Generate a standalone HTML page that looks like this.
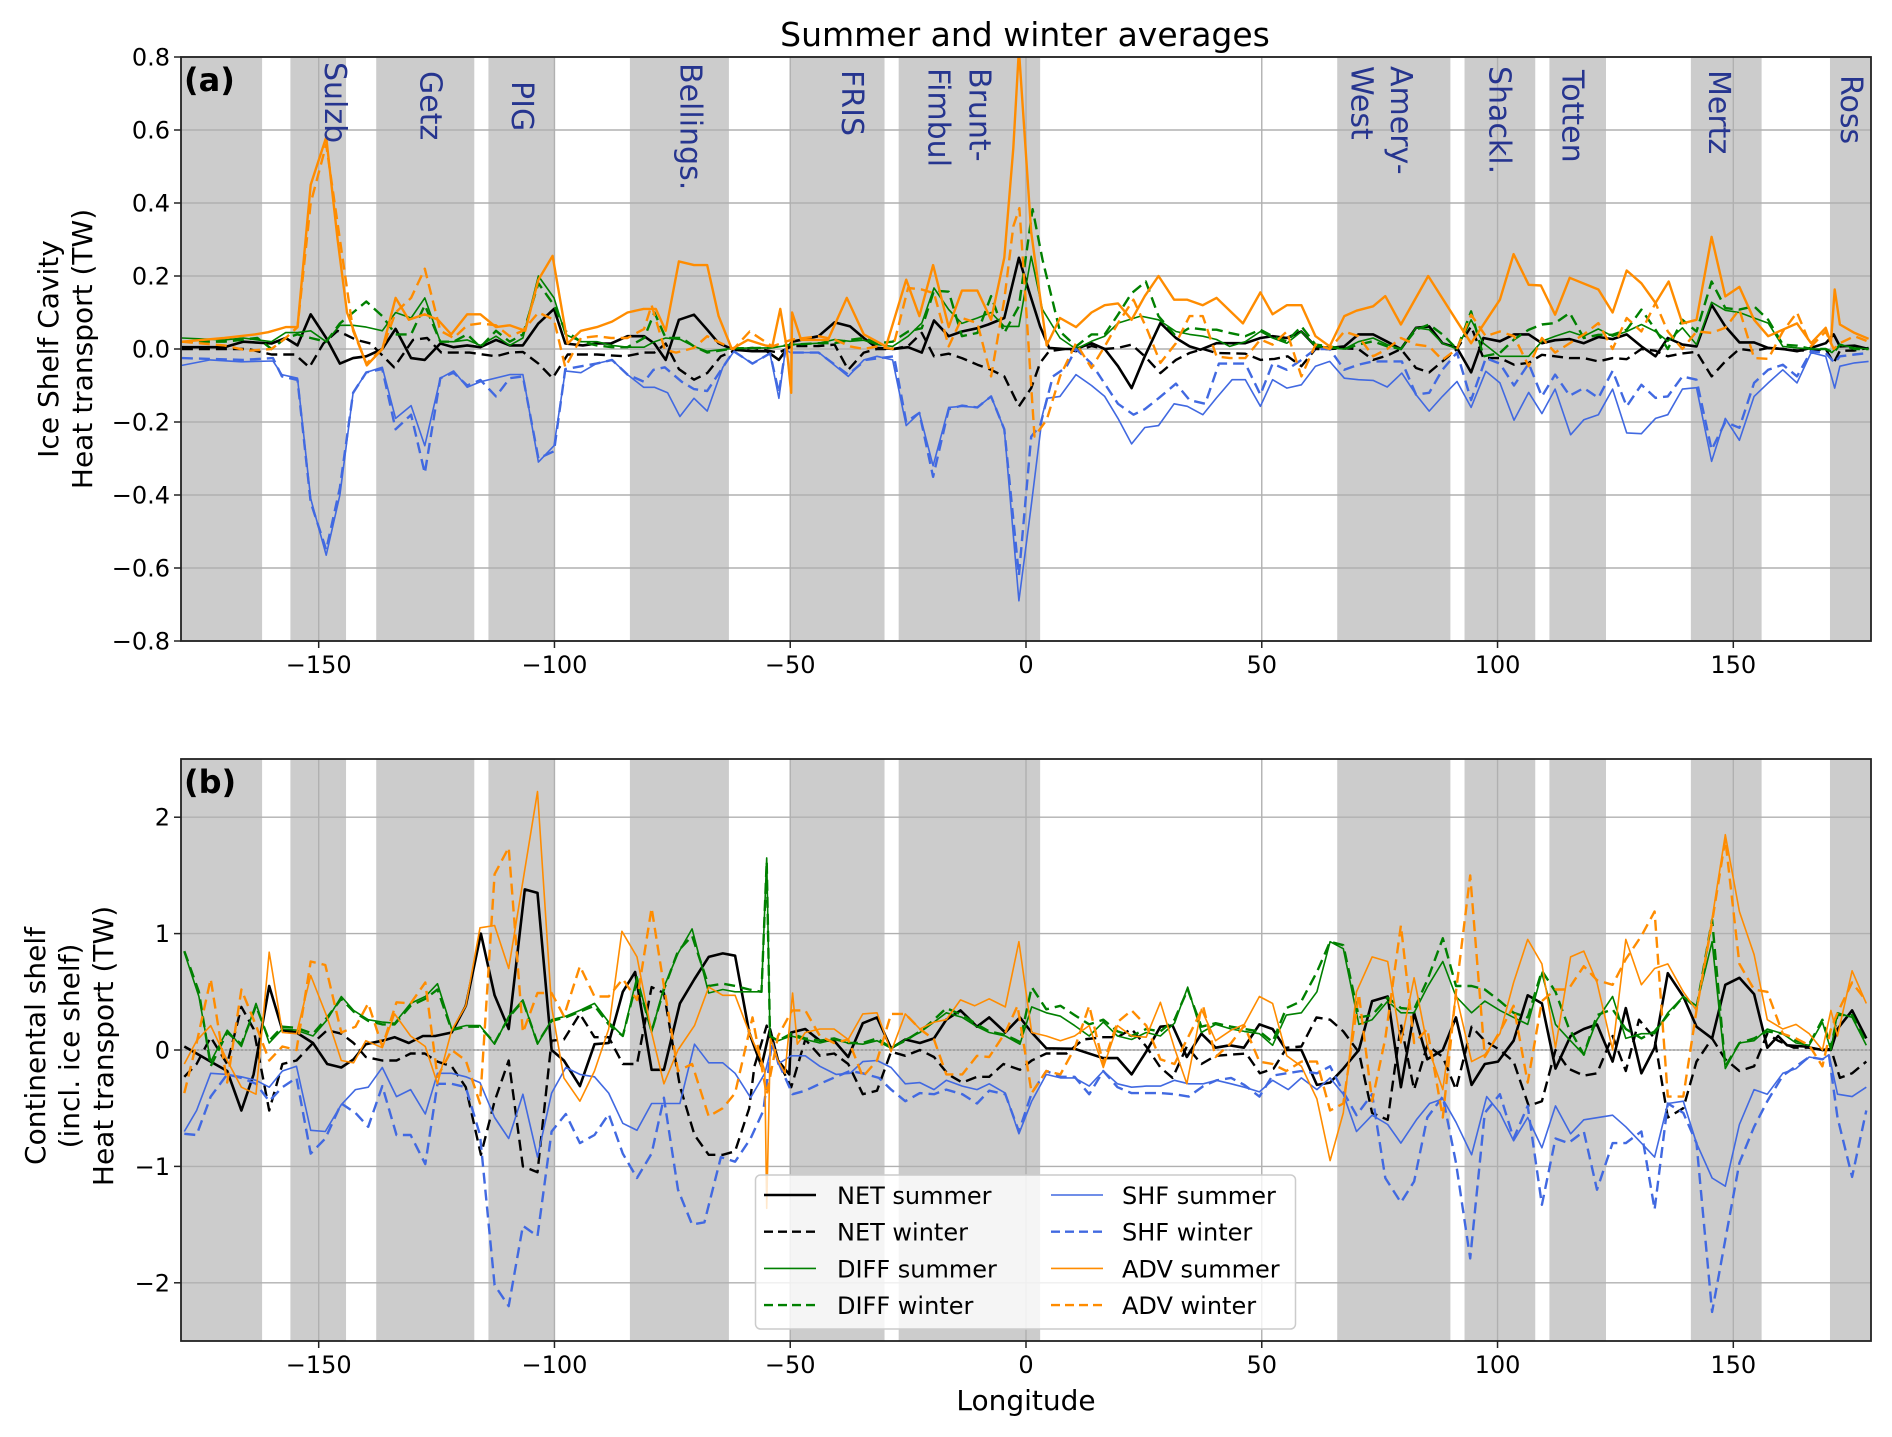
<!DOCTYPE html>
<html>
<head>
<meta charset="utf-8">
<style>
html,body{margin:0;padding:0;background:#fff;}
svg{display:block;font-family:"DejaVu Sans","Liberation Sans",sans-serif;}
</style>
</head>
<body>
<svg id="chart" width="1892" height="1437" viewBox="0 0 1892 1437" xmlns="http://www.w3.org/2000/svg">
<rect x="0" y="0" width="1892" height="1437" fill="#fff"/>
<text x="1025" y="46" font-size="33" text-anchor="middle" fill="#000">Summer and winter averages</text>
<g id="panelA"></g>
<g id="panelB"></g>
<text transform="translate(58,349) rotate(-90)" font-size="28" text-anchor="middle">Ice Shelf Cavity</text>
<text transform="translate(92,349) rotate(-90)" font-size="28" text-anchor="middle">Heat transport (TW)</text>
<text transform="translate(45,1046) rotate(-90)" font-size="28" text-anchor="middle">Continental shelf</text>
<text transform="translate(79,1046) rotate(-90)" font-size="28" text-anchor="middle">(incl. ice shelf)</text>
<text transform="translate(113,1046) rotate(-90)" font-size="28" text-anchor="middle">Heat transport (TW)</text>
<text x="1026" y="1410" font-size="28" text-anchor="middle">Longitude</text>
<g id="legend"></g>
</svg>
<script>
// ---------- shared data ----------
const xTicks = [-150, -100, -50, 0, 50, 100, 150];
const yTicksA = [-0.8, -0.6, -0.4, -0.2, 0.0, 0.2, 0.4, 0.6, 0.8];
const yTickLabelsA = ["\u22120.8", "\u22120.6", "\u22120.4", "\u22120.2", "0.0", "0.2", "0.4", "0.6", "0.8"];
const yTicksB = [-2, -1, 0, 1, 2];
const yTickLabelsB = ["\u22122", "\u22121", "0", "1", "2"];
const bandStarts = [-180, -156, -137.8, -114, -84, -50, -27, 66, 93, 111, 141, 170.5];
const bandEnds = [-162, -144.2, -117, -100, -63, -30, 3, 90, 108, 123, 156, 180];
const regionNames = ["Sulzb", "Getz", "PIG", "Bellings.", "FRIS", "Brunt-", "Fimbul", "Amery-", "West", "Shackl.", "Totten", "Mertz", "Ross"];
const regionLons = [-146.7, -126.4, -107.0, -71.3, -37.0, -10.0, -18.7, 79.4, 71.0, 100.3, 115.8, 146.9, 174.8];
const regionTopY = [62, 71, 81, 63, 70, 68, 68, 66, 66, 66, 70, 70, 75];

// ---------- panel (a) data ----------
const aNetSumLon = [-179,-170,-166,-160,-157,-154.5,-151.7,-148.4,-145.5,-142.7,-139.9,-136.5,-133.7,-130.4,-127.5,-124.2,-121.4,-118.5,-115.7,-112.4,-109.5,-106.7,-103.4,-100.1,-97.7,-94,-91,-88,-84.5,-81,-78.8,-76.4,-73.6,-70.4,-67.6,-65.2,-62,-58.1,-55,-52.4,-49.6,-44,-40.6,-37.3,-34.4,-31.6,-28,-25,-22.1,-19.5,-16.4,-13.6,-10.3,-8,-4.6,-1.5,0.6,3,4.9,8.2,10.6,13.9,16.7,19.5,22.4,25.2,28.5,31.8,34.7,37,40.4,46.5,49.7,52.3,55.3,58.4,61.4,64.4,67.5,70.5,73.6,76.6,79.5,82.7,85.5,88.3,91.4,94.4,97,100.5,103.5,106.6,109.4,112.2,115.3,118.3,121.4,124.4,127.4,130.5,133.5,136.1,139.2,142.2,145.4,148.3,151.3,154.4,157.4,160.5,163.5,166.5,169.6,171.3,172.6,175.7,178.7];
const aNetSumVal = [0.005,0.005,0.02,0.015,0.03,0.01,0.095,0.03,-0.04,-0.025,-0.02,0,0.055,-0.025,-0.03,0.015,0.005,0.01,0.005,0.025,0.01,0.01,0.07,0.11,0.015,0.01,0.015,0.015,0.035,0.035,0.015,-0.03,0.08,0.094,0.053,0.016,-0.002,-0.006,-0.006,-0.03,0.02,0.035,0.073,0.062,0.03,0.003,0,0.005,-0.01,0.078,0.035,0.048,0.057,0.067,0.085,0.25,0.16,0.062,0.003,0,0,0.016,0,-0.047,-0.107,-0.02,0.071,0.03,0.007,-0.002,0.016,0.016,0.03,0.035,0.03,0.048,0.007,0.003,0.007,0.04,0.04,0.02,0,0.058,0.062,0.016,0.003,-0.064,0.03,0.021,0.04,0.04,0.016,0.024,0.027,0.016,0.033,0.027,0.04,0.007,-0.02,0.03,0.012,0.007,0.121,0.062,0.018,0.018,0.003,0,-0.006,0.003,0.016,0.04,0.007,0.009,0];
const aNetWinLon = [-179,-165,-160,-155,-152,-149,-146,-142,-139,-134,-130,-127,-124,-118,-112.4,-109.5,-106.7,-103.4,-100.4,-97.2,-91,-85,-81,-78.8,-76.4,-73.6,-70.4,-67.6,-64.7,-61,-58,-52.4,-49.6,-44,-40.6,-37.7,-34.4,-31.6,-28.3,-25,-22.1,-19.5,-16.4,-13.6,-10.3,-7.4,-4.6,-1.5,1.1,3,4.9,8.2,10.6,13.9,16.7,19.5,22.4,25.2,28.5,31.8,34.7,37.5,40.4,46.5,49.7,52.7,55.5,58.4,61.4,64.4,67.5,70.5,73.6,76.6,79.5,82.7,85.5,88.3,91.4,94.4,97,100.5,103.5,106.6,109.4,112.2,115.3,118.3,121.4,124.4,127.4,130.5,133.5,136.1,139.2,142.2,145.4,148.3,151.3,154.4,157.4,160.5,163.5,166.5,169.6,171.3,172.6,175.7,178.7];
const aNetWinVal = [0,0,-0.015,-0.015,-0.05,0.015,0.05,0.025,0.015,-0.05,0.025,0.03,-0.01,-0.01,-0.02,-0.01,-0.008,-0.04,-0.08,-0.015,-0.015,-0.02,-0.01,-0.01,0.015,-0.055,-0.084,-0.066,-0.02,0,0.003,-0.01,0.008,0.008,0.012,-0.057,-0.01,0,0,0.008,0.044,-0.02,-0.013,-0.025,-0.043,-0.057,-0.075,-0.157,-0.107,-0.038,-0.006,0,-0.006,0.008,0,0.003,0.012,-0.02,-0.066,-0.03,-0.011,0,-0.011,-0.013,-0.03,-0.027,-0.02,-0.047,0,0,0.002,0,-0.03,-0.018,0,-0.052,-0.064,-0.034,0,0.062,-0.025,-0.025,-0.043,-0.038,-0.016,-0.02,-0.025,-0.025,-0.034,-0.025,-0.028,0,-0.005,-0.02,-0.012,-0.008,-0.075,-0.034,0,-0.005,0.003,0,-0.004,-0.004,0,-0.038,-0.005,-0.004,0.003];
const aDiffSumLon = [-179,-170,-166,-160,-157,-154.5,-151.7,-148.4,-145.5,-142.7,-139.9,-136.5,-133.7,-130.4,-127.5,-124.2,-121.4,-118.5,-115.7,-112.4,-109.5,-106.7,-103.4,-100.1,-97.7,-94.4,-91,-87.8,-84.5,-81,-78.8,-76.4,-73.3,-70.4,-67.6,-62,-58,-54,-49.6,-43.9,-40.6,-37.3,-34.4,-31.6,-28.3,-25,-22.1,-19.5,-16.4,-13.6,-10.3,-7.4,-4.6,-1.5,1.1,3.5,7.2,10.6,13.9,16.7,19.5,24.3,28.1,31.8,34.7,37.5,40.4,43.2,46.5,49.7,52.3,55.3,58.4,61.4,64.4,67.5,70.5,73.6,76.6,79.5,82.7,85.5,88.3,91.4,94.4,97,100.5,103.5,106.6,109.4,112.2,115.3,118.3,121.4,124.4,127.4,130.5,133.5,136.1,139.2,142.2,145.4,148.3,151.3,154.4,157.4,160.5,163.5,166.5,169.6,170.9,172.6,175.7,178.7];
const aDiffSumVal = [0.03,0.025,0.03,0.02,0.045,0.045,0.05,0.02,0.065,0.065,0.06,0.05,0.1,0.085,0.14,0.02,0.02,0.025,0.01,0.035,0.01,0.03,0.2,0.14,0.04,0.02,0.02,0.01,0.005,0.005,0.02,0.03,0.026,0.007,-0.006,0.002,0.003,0.003,0.012,0.016,0.026,0.021,0.024,0.012,0.007,0.035,0.071,0.167,0.108,0.07,0.085,0.1,0.062,0.062,0.254,0.108,0.03,0,0.021,0.035,0.071,0.09,0.08,0.048,0.04,0.035,0.026,0.007,0.02,0.048,0.03,0.016,0.048,0.007,0.003,0,0.02,0.03,0.012,0,0.058,0.053,0.016,0,0.08,0.016,-0.02,-0.02,-0.02,0.021,0.035,0.048,0.035,0.055,0.035,0.048,0.067,0.048,0.021,0.058,0.012,0.128,0.106,0.1,0.085,0.071,0.007,0.003,0,0,-0.01,0.012,0.003,0];
const aDiffWinLon = [-179,-170,-163,-160,-157,-154.5,-151.7,-148.4,-145.5,-142.7,-139.9,-136.5,-133.7,-130.4,-127.5,-124.2,-121.4,-118.5,-115.7,-112.4,-109.5,-106.7,-103.4,-100.1,-97.7,-94.4,-91,-87.8,-84.5,-81,-78.8,-76.4,-73,-70.4,-67.6,-62,-55,-49.6,-43.9,-40.6,-37.3,-34.4,-31.6,-28.3,-25,-22.1,-19.5,-16.4,-13.6,-10.3,-7.4,-4.6,-1.5,1.4,3.5,7.2,10.6,13.9,16.7,19.5,22.4,25.4,28.1,31.8,34.7,38,40.4,43.2,46.5,49.7,52.3,55.3,58.4,61.4,64.4,67.5,70.5,73.6,76.6,79.5,82.7,85.5,88.3,91.4,94.4,97,100.5,103.5,106.6,109.4,112.2,115.3,118.3,121.4,124.4,127.4,130.5,133.5,136.1,139.2,142.2,145.4,148.3,151.3,154.4,157.4,160.5,163.5,166.5,169.6,171.3,172.6,175.7,178.7];
const aDiffWinVal = [0.02,0.02,0.03,0,0.03,0.04,0.03,0.02,0.07,0.1,0.13,0.09,0.04,0.04,0.12,0.02,0.02,0.04,0.005,0.05,0.02,0.04,0.18,0.12,0.05,0.02,0.01,0.005,0.005,0.03,0.1,0.03,0.03,0.007,-0.01,0.002,0.003,0.012,0.016,0.016,0.025,0.03,0.016,0.02,0.048,0.057,0.16,0.157,0.035,0.044,0.145,0.044,0.117,0.383,0.245,0.048,0.007,0.04,0.04,0.094,0.153,0.185,0.09,0.035,0.058,0.053,0.053,0.044,0.035,0.053,0.035,0.021,0.062,0.012,0.007,0,0.012,0.021,0.007,0,0.053,0.067,0.04,0,0.103,-0.02,-0.011,0.026,0.053,0.067,0.071,0.099,0.03,0.039,0.039,0.053,0.108,0.053,0,0.08,0.048,0.185,0.112,0.108,0.117,0.08,0.012,0.009,0,0,-0.01,0.012,0,0];
const aShfSumLon = [-179,-173,-166.4,-159.7,-157.8,-154.5,-151.7,-148.4,-145.5,-142.7,-139.9,-136.5,-133.7,-130.4,-127.5,-124.2,-121.4,-118.5,-115.7,-109.5,-106.7,-103.4,-100.1,-97.7,-94.4,-91.1,-87.8,-84.5,-81.1,-78.8,-76,-73.4,-70.4,-67.6,-64.3,-61.9,-58.1,-54.3,-52.4,-51,-50,-43.9,-37.7,-34.4,-31.6,-28.3,-25.4,-22.6,-19.7,-16.4,-13.6,-10.3,-7.4,-4.6,-1.5,1.1,3.5,4.4,7.2,10.6,13.9,16.7,19.5,22.4,25.2,28.1,31.4,34.2,37.5,40.4,43.7,46.5,49.7,52.3,55.3,58.4,61.4,64.4,67.5,70.5,73.6,76.6,79.7,82.7,85.5,88.3,91.4,94.4,97.5,100.5,103.5,106.6,109.4,112.2,115.5,118.3,121.4,124.4,127.4,130.5,133.5,136.1,139.2,142.2,145.4,148.3,151.3,154.4,157.4,160.5,163.5,166.5,169.6,171.5,172.6,175.7,178.7];
const aShfSumVal = [-0.045,-0.03,-0.035,-0.033,-0.07,-0.08,-0.41,-0.565,-0.4,-0.12,-0.064,-0.05,-0.19,-0.155,-0.265,-0.08,-0.06,-0.105,-0.09,-0.07,-0.07,-0.31,-0.265,-0.06,-0.065,-0.04,-0.03,-0.07,-0.105,-0.105,-0.12,-0.185,-0.135,-0.17,-0.05,-0.006,-0.04,-0.012,-0.135,0,-0.01,-0.01,-0.075,-0.03,-0.02,-0.03,-0.21,-0.175,-0.32,-0.16,-0.157,-0.16,-0.13,-0.22,-0.69,-0.43,-0.18,-0.135,-0.13,-0.07,-0.1,-0.13,-0.19,-0.26,-0.215,-0.21,-0.15,-0.157,-0.18,-0.134,-0.084,-0.084,-0.157,-0.084,-0.107,-0.098,-0.047,-0.034,-0.08,-0.084,-0.086,-0.104,-0.066,-0.125,-0.17,-0.13,-0.089,-0.16,-0.061,-0.093,-0.195,-0.119,-0.177,-0.11,-0.235,-0.194,-0.18,-0.11,-0.23,-0.232,-0.19,-0.18,-0.11,-0.106,-0.308,-0.19,-0.25,-0.13,-0.093,-0.057,-0.093,-0.01,-0.02,-0.107,-0.047,-0.038,-0.034];
const aShfWinLon = [-179,-166,-159.7,-157.8,-154.5,-151.7,-148.4,-145.5,-142.7,-139.9,-136.5,-133.7,-130.4,-127.5,-124.2,-121.4,-118.5,-115.7,-112.4,-109.5,-106.7,-103.4,-100.1,-97.7,-91.1,-87.8,-84.5,-81,-79,-76.6,-73,-70.4,-67.6,-64.3,-62,-58,-54.3,-52.4,-51,-50,-44,-37.7,-34,-28,-25.4,-22.6,-19.7,-16.4,-13.6,-10.3,-7.4,-4.6,-1.5,1.1,3,5.7,8.5,10.6,13.9,16.7,19.5,22.8,25.2,28.1,31.8,34.7,38,40.9,46.5,49.7,52.3,55.3,58.4,61.4,64.4,67.5,70.5,73.6,76.6,79.7,82.7,85.5,88.3,91.4,94.4,97.5,100.5,103.5,106.6,109.4,112.2,115.3,118.3,121.4,124.4,127.4,130.5,133.5,136.1,139.2,142.2,145.4,148.3,151.3,154.4,157.4,160.5,163.5,166.5,169.6,171.5,172.6,175.7,178.7];
const aShfWinVal = [-0.025,-0.03,-0.025,-0.075,-0.085,-0.42,-0.55,-0.38,-0.12,-0.064,-0.055,-0.22,-0.18,-0.34,-0.08,-0.065,-0.1,-0.085,-0.13,-0.08,-0.075,-0.3,-0.28,-0.055,-0.04,-0.03,-0.07,-0.09,-0.057,-0.05,-0.09,-0.11,-0.115,-0.05,-0.006,-0.04,-0.012,-0.12,0,-0.01,-0.01,-0.07,-0.03,-0.02,-0.2,-0.175,-0.35,-0.165,-0.155,-0.16,-0.13,-0.22,-0.62,-0.24,-0.21,-0.075,-0.05,0,-0.04,-0.095,-0.15,-0.18,-0.165,-0.135,-0.095,-0.14,-0.15,-0.04,-0.04,-0.125,-0.04,-0.057,-0.03,0,0,-0.057,-0.043,-0.034,-0.034,-0.034,-0.125,-0.12,-0.057,-0.01,-0.14,-0.025,-0.04,-0.1,-0.04,-0.13,-0.07,-0.128,-0.107,-0.134,-0.06,-0.157,-0.098,-0.134,-0.13,-0.075,-0.084,-0.276,-0.2,-0.216,-0.093,-0.057,-0.043,-0.075,-0.006,-0.011,-0.038,-0.02,-0.015,-0.011];
const aAdvSumLon = [-179,-170,-163.5,-160.7,-157,-154.5,-151.7,-148.4,-146,-144,-139.8,-136.5,-133.7,-130.9,-127.5,-124.7,-121.9,-118.5,-115.7,-112.4,-109.5,-106.2,-103.4,-100.4,-97.2,-94.4,-91,-87.8,-84.5,-81.1,-78.5,-76.4,-73.6,-70.4,-67.6,-65.2,-62.4,-59,-55.3,-53.8,-52.1,-50.8,-49.8,-49.6,-47.7,-42,-38,-34.4,-29.7,-25.4,-22.6,-19.7,-16.4,-13.6,-10.3,-7.4,-4.6,-2.7,-1.5,1.1,4.4,7.2,10.6,13.9,16.7,19.5,22.4,25.2,28.1,31.4,34.2,37.5,40.4,46,49.7,52.3,55.3,58.4,61.4,64.4,67.5,70.1,73.6,76.2,79.5,85.3,91.4,94.4,100.5,103.4,106.6,109.2,112.2,115.3,121.4,124.4,127.4,130.5,133.5,136.3,139.2,142.2,145.4,148.3,151.3,154.4,157.4,160.5,163.5,166.5,169.6,170.7,171.5,172.6,175.7,178.7];
const aAdvSumVal = [0.02,0.03,0.04,0.046,0.06,0.06,0.45,0.58,0.3,0.1,-0.045,0,0.14,0.08,0.095,0.08,0.04,0.095,0.095,0.06,0.065,0.05,0.19,0.255,0.015,0.05,0.06,0.075,0.1,0.11,0.11,0.05,0.24,0.23,0.23,0.09,0,0.025,0.01,0.007,0.11,0.007,-0.12,0.1,0.025,0.025,0.14,0.04,0.007,0.19,0.09,0.23,0.06,0.16,0.16,0.08,0.25,0.55,0.82,0.32,0.01,0.085,0.06,0.1,0.12,0.125,0.08,0.145,0.2,0.135,0.135,0.12,0.14,0.07,0.155,0.095,0.12,0.12,0.035,0.007,0.09,0.105,0.117,0.145,0.067,0.2,0.076,0.016,0.135,0.26,0.176,0.174,0.094,0.195,0.163,0.1,0.215,0.18,0.126,0.185,0.07,0.08,0.307,0.144,0.17,0.08,0.035,0.053,0.07,0.016,0.058,0.016,0.163,0.067,0.044,0.028];
const aAdvWinLon = [-179,-170,-165,-160,-157,-154.5,-151.7,-148.4,-145.5,-142.7,-139.9,-136.5,-133.7,-130.4,-127.5,-124.2,-121.4,-118.5,-115.7,-112.4,-109.5,-106.7,-103.4,-100.1,-97.7,-94.4,-91,-88,-84.5,-81,-79.4,-76.6,-74.2,-70.4,-67.6,-64.7,-62,-58.6,-55.3,-53.8,-49.6,-44,-40.6,-37.3,-34.4,-31.6,-28.3,-25,-22.1,-19.5,-16.4,-13.6,-10.3,-7.4,-4.6,-2.7,-1.4,0,1.8,4.4,7.2,10.6,13.9,16.7,19.5,22.8,25.7,28.5,31.8,34.7,37.5,40.4,43.2,46.5,49.7,52.3,55.3,58.4,61.4,64.4,67.5,70.5,73.6,76.6,79.5,82.7,85.5,88.3,91.4,94.4,97.5,100.5,103.5,106.6,109.4,112.2,115.3,118.3,121.4,124.4,127.4,130.5,133.5,136.1,139.2,142.2,145.4,148.3,151.3,154.4,157.4,160.5,163.5,166.5,169.6,171.3,172.6,175.7,178.7];
const aAdvWinVal = [0.02,0.01,-0.005,0,0.03,0.06,0.4,0.56,0.3,0.05,-0.04,0,0.1,0.14,0.22,0.05,0.03,0.065,0.07,0.065,0.035,0.05,0.1,0.08,-0.05,0.03,0.035,0.03,0.03,0.055,0.12,-0.002,-0.01,0.003,0.035,0.016,0,0.048,0.02,0.007,0.026,0.035,0.026,0.007,0,0.007,0,0.167,0.163,0.153,0.007,0.085,0.071,-0.075,0.135,0.336,0.386,0.117,-0.24,-0.194,-0.075,0.016,-0.052,0.007,0.071,0.135,0.053,-0.038,0.016,0.09,0.09,-0.02,-0.025,-0.025,0.026,0.012,0.048,-0.075,0.012,0,0.048,0.035,-0.02,0,0.03,0.012,0.007,-0.03,0,0.094,0.035,0.048,0.035,-0.047,0.03,-0.01,0.016,0.04,0.071,0,0.085,0.048,0.126,0.048,0,0.048,0.044,0.058,0.108,-0.025,-0.027,0.048,0.1,0.007,0.048,0,0.016,0.035,0.02];

// ---------- panel (b) data ----------
const bNetSumLon = [-178.5,-175.9,-172.9,-169.4,-166.4,-163.8,-160.5,-157.7,-154.7,-151.2,-148.2,-145.2,-142.6,-140,-136.5,-133.9,-130.9,-127.9,-125.3,-121.8,-118.8,-115.6,-112.7,-109.7,-106.3,-103.6,-100.6,-98,-94.6,-91.5,-88.5,-85.5,-82.9,-79.4,-76.8,-73.4,-70.3,-67.3,-64.3,-61.7,-58.7,-56.1,-54.3,-52.6,-50.2,-49.8,-46.8,-43.7,-40.7,-37.7,-34.6,-31.6,-28.6,-25.6,-22.5,-19.5,-16.9,-13.9,-10.4,-7.8,-4.4,-1.3,1.2,4.3,10.3,16.4,19.4,22.4,25.5,28.5,31.1,34.1,37.2,40.2,43.2,46.2,49.5,52.3,55.2,58.4,61.7,64.5,67.3,70.6,73.4,76.7,79.5,82.3,85.1,88.4,91.2,94.5,97.3,100.1,103.4,106.4,109.4,112.3,115.5,118.3,121.1,124.4,127.2,130.5,133.3,136.1,139.4,142.2,145.5,148.3,151.3,154.4,157.2,159.5,161.4,165.1,168.9,170.7,172.1,175.2,178.2];
const bNetSumVal = [0.03,-0.03,-0.1,-0.18,-0.52,-0.21,0.55,0.17,0.15,0.06,-0.12,-0.15,-0.08,0.05,0.08,0.11,0.06,0.12,0.12,0.15,0.38,1.0,0.47,0.18,1.38,1.35,0,-0.09,-0.31,0.05,0.06,0.5,0.67,-0.17,-0.17,0.4,0.61,0.8,0.83,0.81,0.15,-0.14,0.18,-0.09,-0.21,0.15,0.18,0.08,0.08,-0.06,0.23,0.28,0.015,0.09,0.06,0.1,0.26,0.34,0.2,0.28,0.15,0.28,0.15,0.015,0.01,-0.07,-0.07,-0.21,-0.015,0.2,0.21,-0.06,0.14,0.02,0.04,0.02,0.22,0.18,0,0,-0.3,-0.28,-0.16,0,0.42,0.46,-0.32,0.32,-0.08,0,0.28,-0.3,-0.12,-0.1,0.08,0.47,0.4,-0.16,0.12,0.18,0.22,-0.1,0.36,-0.2,0.02,0.66,0.46,0.2,0.1,0.56,0.62,0.48,0.02,0.12,0.04,0.03,0,0,0.18,0.34,0.1];
const bNetWinLon = [-178.5,-175.9,-172.9,-169.4,-166.4,-163.8,-160.5,-157.7,-154.7,-151.2,-148.2,-145.2,-142.6,-140,-136.5,-133.5,-130.5,-127.5,-124.8,-121.8,-118.8,-115.6,-112.7,-109.7,-106.7,-103.6,-100.6,-98,-94.6,-91.5,-88.5,-85.5,-82.5,-79.4,-76.8,-73.4,-70.3,-67.3,-64.3,-61.7,-58.7,-57.6,-55,-52.6,-49.8,-46.8,-43.7,-40.7,-37.7,-34.6,-31.6,-28.6,-25.6,-22.5,-19.5,-16.5,-13.5,-10.4,-7.8,-4.8,-1.3,1.2,4.3,8.6,12.1,16.4,19.4,22.4,25.5,28.5,31.1,34.1,37.2,40.2,43.2,46.7,49.6,52.5,55.3,58.4,61.6,64.5,67.3,70.6,73.4,76.7,79.5,82.3,85.1,88.4,91.2,94.5,97.3,100.5,103.4,106.6,109.4,112.3,115,118.3,121.1,124.4,127.2,130,133.3,136.1,139.4,142.2,145.5,148.3,151.3,154.4,157.2,159.5,162.8,166.1,168.9,170.7,172.6,175.2,178.2];
const bNetWinVal = [-0.23,-0.12,0.11,-0.12,0.37,0.18,-0.52,-0.12,-0.09,0.06,0.17,0.14,0.06,-0.06,-0.09,-0.09,-0.03,-0.03,-0.1,-0.14,-0.32,-0.9,-0.44,-0.09,-1.0,-1.05,0.08,0.09,0.31,0.11,0.11,-0.12,-0.12,0.54,0.49,-0.31,-0.73,-0.9,-0.9,-0.87,-0.5,-0.14,0.21,-0.09,-0.32,0.09,-0.05,-0.03,-0.12,-0.38,-0.35,-0.015,-0.05,0,-0.06,-0.21,-0.28,-0.23,-0.23,-0.12,-0.17,-0.09,-0.03,-0.03,0.09,0.11,0.11,0.18,0.03,-0.15,-0.24,0.03,-0.12,-0.05,-0.04,-0.03,-0.2,-0.16,0.02,0.03,0.28,0.26,0.16,-0.02,-0.54,-0.6,0.22,-0.34,0.04,-0.06,-0.34,0.2,0.08,0,-0.1,-0.48,-0.44,0,-0.16,-0.22,-0.2,0.12,-0.18,0.26,0.1,-0.58,-0.5,-0.1,0.1,-0.08,-0.18,-0.14,0.14,0.08,0.02,0.02,0,0.01,-0.24,-0.2,-0.1];
const bDiffSumLon = [-178.5,-175.4,-172.9,-169.4,-166.4,-163.3,-160.5,-157.7,-154.7,-151.2,-148.2,-145.2,-142.6,-139.5,-136.5,-133.9,-130.5,-127.4,-124.8,-121.8,-118.8,-115.8,-112.7,-109.7,-106.7,-103.6,-100.6,-97.6,-94.6,-91.5,-88.5,-85.5,-82.5,-79.4,-76.8,-73.8,-70.8,-67.3,-64.3,-61.7,-58.7,-56.1,-55,-54.3,-52.6,-49.8,-46.8,-43.7,-40.7,-37.7,-34.6,-31.6,-28.6,-25.6,-22.5,-19.5,-16.9,-13.5,-10.4,-7.8,-4.4,-1.3,1.2,4.3,7.3,10.3,13.4,16.4,19.4,22.4,25.5,28.5,31.5,34.3,37.2,40.2,43.5,46.3,49.5,52.3,55.2,58.4,61.7,64.5,67.3,70.6,73.4,76.7,79.5,82.3,85.1,88.4,91.2,94.5,97.3,100.5,103.4,106.4,109.4,112.3,115,118.3,121.1,124.4,127.2,130.5,133.3,136.1,139.4,142.2,145.5,148.3,151.3,154.4,157.2,160.5,163.3,166.1,168.9,170.7,172.1,175.2,178.2];
const bDiffSumVal = [0.84,0.46,-0.1,0.17,0.03,0.4,0.06,0.18,0.17,0.12,0.26,0.46,0.34,0.26,0.24,0.23,0.4,0.46,0.57,0.18,0.21,0.21,0.05,0.29,0.43,0.05,0.26,0.29,0.34,0.4,0.24,0.12,0.63,0.15,0.54,0.83,1.04,0.49,0.52,0.5,0.5,0.5,1.65,0.12,0.08,0.12,0.09,0.06,0.09,0.06,0.05,0.08,0.015,0.09,0.15,0.24,0.32,0.28,0.2,0.15,0.12,0.05,0.37,0.32,0.29,0.21,0.12,0.24,0.12,0.09,0.15,0.12,0.23,0.54,0.15,0.22,0.18,0.16,0.14,0.04,0.3,0.32,0.5,0.93,0.87,0.22,0.26,0.42,0.32,0.32,0.54,0.76,0.46,0.32,0.42,0.34,0.28,0.22,0.66,0.22,0.1,-0.04,0.26,0.46,0.1,0.14,0.14,0.32,0.46,0.38,0.93,-0.16,0.06,0.08,0.18,0.14,0.06,0.04,0.24,0,0.32,0.28,0.04];
const bDiffWinLon = [-178.5,-175.4,-172.9,-169.4,-166.4,-163.3,-160.5,-157.7,-154.7,-151.2,-148.2,-145.2,-142.6,-139.5,-136.5,-133.9,-130.5,-127.4,-124.8,-121.8,-118.8,-115.8,-112.7,-109.7,-106.7,-103.6,-100.6,-97.6,-94.6,-91.5,-88.5,-85.5,-82.5,-79.4,-76.8,-73.8,-70.8,-67.3,-64.3,-61.7,-58.7,-56.1,-55,-54.3,-52.6,-49.8,-46.8,-43.7,-40.7,-37.7,-34.6,-31.6,-28.6,-25.6,-22.5,-19.5,-16.9,-13.5,-10.4,-7.8,-4.4,-1.3,1.2,4.3,7.3,10.3,13.4,16.4,19.4,22.4,25.5,28.5,31.5,34.3,37.2,40.2,43.5,46.3,49.5,52.3,55.2,58.4,61.7,64.5,67.3,70.6,73.4,76.7,79.5,82.3,85.1,88.4,91.2,94.5,97.3,100.5,103.4,106.4,109.4,112.3,115,118.3,121.1,124.4,127.2,130.5,133.3,136.1,139.4,142.2,145.5,148.3,151.3,154.4,157.2,160.5,163.3,166.1,168.9,170.7,172.1,175.2,178.2];
const bDiffWinVal = [0.85,0.5,-0.14,0.15,0.05,0.38,0.08,0.2,0.19,0.14,0.28,0.44,0.33,0.25,0.22,0.22,0.38,0.44,0.52,0.17,0.2,0.2,0.06,0.28,0.42,0.06,0.25,0.28,0.33,0.38,0.22,0.12,0.6,0.16,0.52,0.85,0.98,0.55,0.57,0.55,0.52,0.5,1.62,0.12,0.08,0.14,0.1,0.08,0.1,0.06,0.06,0.1,0.02,0.08,0.16,0.26,0.36,0.3,0.22,0.16,0.13,0.07,0.54,0.35,0.38,0.3,0.22,0.26,0.16,0.12,0.18,0.16,0.26,0.52,0.2,0.23,0.2,0.18,0.16,0.07,0.36,0.42,0.67,0.93,0.9,0.28,0.3,0.45,0.36,0.35,0.6,0.96,0.55,0.55,0.52,0.42,0.32,0.28,0.68,0.5,0.2,-0.04,0.3,0.35,0.18,0.1,0.16,0.3,0.46,0.36,1.12,-0.14,0.06,0.1,0.16,0.14,0.08,0.05,0.26,0.02,0.3,0.3,0.06];
const bShfSumLon = [-178.5,-175.9,-172.9,-169.4,-166.4,-163.3,-160.5,-157.7,-154.7,-151.7,-148.6,-145.2,-142.2,-139.5,-136.5,-133.5,-130.5,-127.4,-124.8,-121.8,-118.8,-115.8,-112.7,-109.7,-106.7,-103.6,-100.6,-97.6,-94.6,-91.5,-88.5,-85.5,-82.5,-79.4,-76.8,-73.4,-70.3,-67.3,-64.3,-61.7,-58.4,-55.4,-53.7,-52.6,-49.8,-46.8,-43.7,-40.3,-37.3,-34.6,-31.6,-28.6,-25.6,-22.5,-19.5,-16.9,-13.5,-10.4,-7.8,-4.4,-1.5,1.2,4.3,7.3,10.3,13.4,16.4,19.4,22.4,25.5,28.5,31.5,34.5,37.6,40.4,43.5,46.3,49.5,52.3,55.6,58.4,61.7,64.5,67.3,70.1,73.4,76.7,79.5,82.8,85.6,88.4,91.2,94.5,97.7,100.5,103.4,106.4,109.4,112.3,115.5,118.3,124.4,127.2,130.5,133.3,136.1,139.4,142.2,145.5,148.3,151.3,154.4,157.2,160.5,163.3,166.1,168.9,170.3,172.1,175.2,178.2];
const bShfSumVal = [-0.7,-0.52,-0.2,-0.21,-0.23,-0.26,-0.32,-0.18,-0.14,-0.69,-0.7,-0.47,-0.34,-0.32,-0.15,-0.4,-0.34,-0.55,-0.2,-0.2,-0.23,-0.28,-0.58,-0.76,-0.38,-0.92,-0.37,-0.15,-0.21,-0.23,-0.37,-0.63,-0.69,-0.46,-0.46,-0.46,0.05,-0.11,-0.11,-0.2,-0.41,-0.2,0.06,-0.12,-0.05,-0.05,-0.14,-0.21,-0.2,-0.1,-0.09,-0.15,-0.29,-0.28,-0.34,-0.26,-0.31,-0.34,-0.29,-0.37,-0.72,-0.44,-0.21,-0.24,-0.24,-0.31,-0.18,-0.29,-0.32,-0.31,-0.31,-0.26,-0.29,-0.29,-0.26,-0.29,-0.32,-0.36,-0.26,-0.34,-0.24,-0.34,-0.24,-0.38,-0.7,-0.56,-0.64,-0.8,-0.6,-0.46,-0.42,-0.62,-0.9,-0.4,-0.54,-0.78,-0.58,-0.84,-0.48,-0.72,-0.6,-0.56,-0.66,-0.8,-0.92,-0.46,-0.44,-0.8,-1.1,-1.17,-0.64,-0.34,-0.38,-0.2,-0.16,-0.06,-0.08,-0.04,-0.38,-0.4,-0.32];
const bShfWinLon = [-178.5,-175.9,-172.9,-169.4,-166.4,-163.3,-160.5,-157.7,-154.7,-151.7,-148.6,-145.2,-142.2,-139.5,-136.5,-133.5,-130.5,-127.4,-124.8,-121.8,-118.8,-115.8,-112.7,-109.7,-106.7,-103.6,-100.6,-97.6,-94.6,-91.5,-88.5,-85.5,-82.5,-79.4,-76.8,-73.8,-70.8,-68.2,-64.7,-61.7,-58.4,-55.7,-53.9,-52.6,-49.5,-46.8,-43.7,-40.3,-37.3,-34.6,-31.2,-28.6,-25.6,-22.5,-19.5,-16.9,-13.5,-10.4,-7.8,-4.4,-1.5,1.2,4.3,7.3,10.3,13.4,16.4,19.4,22.4,25.5,28.5,31.5,34.5,37.6,40.4,43.5,46.3,49.5,52.3,55.3,58.4,61.7,64.5,67.3,70.1,73.4,76.2,79.5,82.3,85.1,88.4,91.2,94.2,97.3,100.5,103.4,106.4,109.4,112.3,115,118.3,121.1,124.4,127.2,130.5,133.3,136.1,139.4,142.2,145.5,148.3,151.3,154.4,157.2,160.5,163.3,166.1,168.9,170.3,172.1,175.2,178.2];
const bShfWinVal = [-0.72,-0.73,-0.4,-0.21,-0.24,-0.29,-0.44,-0.32,-0.24,-0.89,-0.76,-0.46,-0.54,-0.66,-0.31,-0.73,-0.73,-0.98,-0.29,-0.29,-0.32,-0.73,-2.02,-2.2,-1.51,-1.6,-0.7,-0.55,-0.8,-0.73,-0.55,-0.89,-1.1,-0.89,-0.41,-1.2,-1.5,-1.48,-0.92,-0.96,-0.76,-0.52,0.06,-0.1,-0.38,-0.35,-0.29,-0.23,-0.18,-0.2,-0.24,-0.34,-0.44,-0.37,-0.38,-0.34,-0.38,-0.46,-0.35,-0.38,-0.7,-0.37,-0.18,-0.23,-0.23,-0.38,-0.18,-0.32,-0.37,-0.37,-0.37,-0.38,-0.4,-0.31,-0.26,-0.24,-0.3,-0.4,-0.22,-0.2,-0.18,-0.2,-0.14,-0.36,-0.56,-0.38,-1.1,-1.31,-1.13,-0.58,-0.4,-0.97,-1.79,-0.54,-0.38,-0.76,-0.48,-1.33,-0.76,-0.8,-0.7,-1.2,-0.8,-0.8,-0.7,-1.37,-0.46,-0.54,-0.8,-2.25,-1.63,-0.97,-0.66,-0.44,-0.22,-0.14,-0.06,-0.08,-0.05,-0.58,-1.09,-0.52];
const bAdvSumLon = [-178.5,-175.9,-172.9,-169.4,-166.4,-163.3,-160.5,-157.7,-154.7,-151.7,-148.2,-145.2,-142.6,-140,-136.5,-133.9,-130.5,-127.4,-124.8,-121.8,-118.8,-115.8,-112.7,-109.7,-103.6,-100.6,-98,-94.6,-91.5,-88.5,-85.7,-82.5,-79.4,-76.8,-73.8,-70.3,-67.3,-64.3,-61.7,-58.7,-56.1,-55.4,-55,-54.2,-52.6,-51.1,-49.5,-48.5,-46.8,-43.7,-40.7,-37.7,-34.6,-31.6,-28.6,-25.6,-22.5,-19.5,-16.9,-13.9,-10.9,-7.8,-4.4,-1.5,1.2,4.3,7.3,10.3,13.4,16.4,19.4,22.4,25.5,28.5,31.5,34.1,37.2,40.2,43.5,46.3,49.5,52.3,55.3,58.4,61.7,64.5,67.3,70.1,73.4,76.7,79.5,82.3,85.1,88.4,91.2,94.5,97.3,100.5,103.4,106.4,109.4,112.3,115.5,118.3,121.1,124.4,127.2,130.5,133.3,136.1,139.4,142.2,145.5,148.3,151.3,154.4,157.2,160.5,163.3,166.1,168.9,170.7,172.1,175.2,178.2];
const bAdvSumVal = [-0.12,0.08,0.21,-0.09,-0.32,-0.38,0.84,0.15,0.14,0.64,0.28,-0.09,-0.11,0.08,0.02,0.31,0.12,0.03,-0.29,0.17,0.38,1.05,1.07,0.7,2.22,0.37,-0.24,-0.44,-0.18,0.18,1.02,0.8,0.15,-0.29,0,0.21,0.54,0.47,0.47,0.15,-0.09,-0.18,-1.36,0.1,-0.09,-0.2,0.49,0.05,0.15,0.18,0.18,0.09,0.31,0.32,-0.015,0.31,0.18,0.24,0.26,0.43,0.38,0.44,0.37,0.93,0.15,0.12,0.08,0.12,0.21,-0.15,0.21,0.12,0.11,0.41,0.015,-0.29,0.35,0.08,0.17,0.22,0.46,0.4,-0.05,-0.14,-0.42,-0.95,-0.54,0.5,0.8,0.76,0.06,0.62,0.04,-0.34,0.48,-0.1,-0.04,0.14,0.58,0.95,0.74,0.02,0.8,0.85,0.58,0,0.95,0.56,0.7,0.74,0.5,0.34,1.13,1.85,1.19,0.82,0.26,0.18,0.22,0.14,0,0.34,0.12,0.68,0.4];
const bAdvWinLon = [-178.5,-175.9,-172.9,-169.4,-166.4,-163.3,-160.5,-157.7,-154.7,-151.7,-148.6,-145.2,-142.2,-139.5,-136.5,-133.5,-130.5,-127.4,-124.8,-121.8,-118.8,-115.8,-112.7,-109.7,-106.7,-103.6,-100.6,-98,-94.6,-91.5,-88.5,-85.5,-82.5,-79.4,-76.8,-73.8,-70.8,-67.3,-64.3,-61.7,-58,-55,-52.6,-49.6,-46.8,-43.7,-40.7,-37.7,-34.6,-31.6,-28.6,-25.6,-22.5,-19.5,-16.9,-13.5,-10.4,-7.8,-4.4,-1.8,1.2,4.3,7.3,10.3,13.4,16.4,19.4,22.4,25.5,28.5,31.5,34.5,37.6,40.2,43.5,46.3,49.5,52.3,55.2,58.4,61.7,64.5,67.3,70.6,73.4,76.2,79.5,82.3,85.1,88.4,91.2,94.2,97.3,100.5,103.4,106.4,109.4,112.3,115,118.3,121.1,124.4,127.2,130.5,133.3,136.1,139.4,142.2,145.5,148.3,151.3,154.4,157.2,160.5,163.3,166.1,168.9,170.7,172.1,175.2,178.2];
const bAdvWinVal = [-0.37,0.06,0.61,-0.28,0.52,0.21,-0.09,0.03,0,0.76,0.73,0.15,0.2,0.4,0.03,0.41,0.4,0.58,-0.23,0,-0.09,-0.46,1.51,1.74,0.15,0.49,0.49,0.29,0.72,0.46,0.46,0.61,0.43,1.22,0.55,-0.18,-0.12,-0.57,-0.5,-0.37,0.28,-0.38,0.12,0.34,0.34,0.12,0.06,0.09,-0.23,-0.09,0.31,0.31,0.18,0.09,-0.21,-0.21,-0.05,-0.06,0.15,0.38,-0.37,-0.18,-0.21,0.015,0.38,-0.12,0.24,0.34,0.21,-0.08,-0.12,0.12,0.37,-0.06,0.06,0.21,-0.1,-0.12,-0.18,-0.1,-0.1,-0.52,-0.46,0.48,-0.44,0.1,1.07,0.06,0.18,-0.58,0.5,1.5,-0.06,0.16,0.38,-0.28,0.42,0.52,0.52,0.72,0.6,0.56,0.78,0.98,1.19,-0.4,-0.4,0.34,1.1,1.81,0.74,0.52,0.5,0.14,0.1,0.04,-0.14,0.18,0.32,0.58,0.42];

// ---------- layout ----------
const NS = "http://www.w3.org/2000/svg";
const X0 = 181, X1 = 1871, LONMIN = -179.2, LONMAX = 179.2;
function xs(lon){ return X0 + (lon - LONMIN) / (LONMAX - LONMIN) * (X1 - X0); }
const PA = {top:57, bottom:641, ymin:-0.8, ymax:0.8};
const PB = {top:759, bottom:1341, ymin:-2.5, ymax:2.5};
function ysFor(p){ return v => p.bottom - (v - p.ymin) / (p.ymax - p.ymin) * (p.bottom - p.top); }

function mk(tag, attrs, parent){
  const el = document.createElementNS(NS, tag);
  for (const k in attrs) el.setAttribute(k, attrs[k]);
  if (parent) parent.appendChild(el);
  return el;
}

const styles = {
  netSum:{c:"#000000", w:2.6, d:null}, netWin:{c:"#000000", w:2.4, d:"11,6"},
  diffSum:{c:"#008000", w:1.6, d:null}, diffWin:{c:"#008000", w:2.4, d:"11,6"},
  shfSum:{c:"#4169e1", w:1.6, d:null}, shfWin:{c:"#4169e1", w:2.4, d:"11,6"},
  advSumA:{c:"#ff8c00", w:2.4, d:null}, advSumB:{c:"#ff8c00", w:1.6, d:null}, advWin:{c:"#ff8c00", w:2.4, d:"11,6"}
};

function drawPanel(g, p, id, yTicks, yLabels, series, label){
  const ys = ysFor(p);
  const defs = mk("defs", {}, g);
  const cp = mk("clipPath", {id:"clip"+id}, defs);
  mk("rect", {x:X0, y:p.top, width:X1-X0, height:p.bottom-p.top}, cp);
  // bands
  for (let i = 0; i < bandStarts.length; i++) {
    const a = Math.max(bandStarts[i], LONMIN), b = Math.min(bandEnds[i], LONMAX);
    const r = mk("rect", {x:xs(a), y:p.top, width:xs(b)-xs(a), height:p.bottom-p.top, fill:"#cccccc"}, g);
    
    
  }
  // grid
  xTicks.forEach(t => {
    const l = mk("line", {x1:xs(t), x2:xs(t), y1:p.top, y2:p.bottom, stroke:"#b0b0b0", "stroke-width":1.4}, g);
    
    
  });
  yTicks.forEach(t => {
    const l = mk("line", {x1:X0, x2:X1, y1:ys(t), y2:ys(t), stroke:"#b0b0b0", "stroke-width":1.4}, g);
    
    
  });
  if (id === "B") {
    const z = mk("line", {x1:X0, x2:X1, y1:ys(0), y2:ys(0), stroke:"#888", "stroke-width":1, "stroke-dasharray":"2,2"}, g);
    
    
  }
  // series
  const sg = mk("g", {"clip-path":"url(#clip"+id+")"}, g);
  series.forEach(s => {
    const pts = s.lon.map((lo, i) => xs(lo).toFixed(1) + "," + ys(s.val[i]).toFixed(1)).join(" ");
    const pl = mk("polyline", {points:pts, fill:"none", stroke:s.st.c, "stroke-width":s.st.w, "stroke-linejoin":"round"}, sg);
    if (s.st.d) pl.setAttribute("stroke-dasharray", s.st.d);
    
    
  });
  // frame
  const fr = mk("rect", {x:X0, y:p.top, width:X1-X0, height:p.bottom-p.top, fill:"none", stroke:"#222", "stroke-width":1.8}, g);
  
  
  // ticks
  xTicks.forEach(t => {
    mk("line", {x1:xs(t), x2:xs(t), y1:p.bottom, y2:p.bottom+7, stroke:"#222", "stroke-width":1.5}, g);
    const tx = mk("text", {x:xs(t), y:p.bottom+32, "font-size":24, "text-anchor":"middle"}, g);
    tx.textContent = t < 0 ? "\u2212" + Math.abs(t) : String(t);
    
    
  });
  yTicks.forEach((t, i) => {
    mk("line", {x1:X0-7, x2:X0, y1:ys(t), y2:ys(t), stroke:"#222", "stroke-width":1.5}, g);
    const tx = mk("text", {x:X0-11, y:ys(t)+8.5, "font-size":24, "text-anchor":"end"}, g);
    tx.textContent = yLabels[i];
    
    
  });
  const pl = mk("text", {x:X0+3, y:p.top+34, "font-size":32, "font-weight":"bold"}, g);
  pl.textContent = label;
  
  
}

const gA = document.getElementById("panelA");
drawPanel(gA, PA, "A", yTicksA, yTickLabelsA, [
  {name:"a-net-summer", lon:aNetSumLon, val:aNetSumVal, st:styles.netSum},
  {name:"a-net-winter", lon:aNetWinLon, val:aNetWinVal, st:styles.netWin},
  {name:"a-diff-summer", lon:aDiffSumLon, val:aDiffSumVal, st:styles.diffSum},
  {name:"a-diff-winter", lon:aDiffWinLon, val:aDiffWinVal, st:styles.diffWin},
  {name:"a-shf-summer", lon:aShfSumLon, val:aShfSumVal, st:styles.shfSum},
  {name:"a-shf-winter", lon:aShfWinLon, val:aShfWinVal, st:styles.shfWin},
  {name:"a-adv-summer", lon:aAdvSumLon, val:aAdvSumVal, st:styles.advSumA},
  {name:"a-adv-winter", lon:aAdvWinLon, val:aAdvWinVal, st:styles.advWin}
], "(a)");
// region labels
regionNames.forEach((n, i) => {
  const t = mk("text", {transform:"translate(" + xs(regionLons[i]).toFixed(1) + "," + regionTopY[i] + ") rotate(90)", "font-size":30, fill:"#26358f", "dominant-baseline":"central"}, gA);
  t.textContent = n;
  
  
});

const gB = document.getElementById("panelB");
drawPanel(gB, PB, "B", yTicksB, yTickLabelsB, [
  {name:"b-net-summer", lon:bNetSumLon, val:bNetSumVal, st:styles.netSum},
  {name:"b-net-winter", lon:bNetWinLon, val:bNetWinVal, st:styles.netWin},
  {name:"b-diff-summer", lon:bDiffSumLon, val:bDiffSumVal, st:styles.diffSum},
  {name:"b-diff-winter", lon:bDiffWinLon, val:bDiffWinVal, st:styles.diffWin},
  {name:"b-shf-summer", lon:bShfSumLon, val:bShfSumVal, st:styles.shfSum},
  {name:"b-shf-winter", lon:bShfWinLon, val:bShfWinVal, st:styles.shfWin},
  {name:"b-adv-summer", lon:bAdvSumLon, val:bAdvSumVal, st:styles.advSumB},
  {name:"b-adv-winter", lon:bAdvWinLon, val:bAdvWinVal, st:styles.advWin}
], "(b)");

// legend
const lg = document.getElementById("legend");
const box = mk("rect", {x:755.5, y:1175, width:540, height:154, rx:5, fill:"rgba(255,255,255,0.8)", stroke:"#cccccc", "stroke-width":1.5}, lg);


const legNames = ["NET summer","NET winter","DIFF summer","DIFF winter","SHF summer","SHF winter","ADV summer","ADV winter"];
const legStyles = [styles.netSum, styles.netWin, styles.diffSum, styles.diffWin, styles.shfSum, styles.shfWin, styles.advSumB, styles.advWin];
legNames.forEach((n, i) => {
  const col = Math.floor(i / 4), row = i % 4;
  const lx = col === 0 ? 764 : 1051, tx = col === 0 ? 837 : 1122;
  const y = 1195 + row * 36.7;
  const l = mk("line", {x1:lx, x2:lx+52, y1:y, y2:y, stroke:legStyles[i].c, "stroke-width":legStyles[i].w}, lg);
  if (legStyles[i].d) l.setAttribute("stroke-dasharray", "9,5");
  
  
  const t = mk("text", {x:tx, y:y+9, "font-size":24}, lg);
  t.textContent = n;
  
  
});
</script>
</body>
</html>
